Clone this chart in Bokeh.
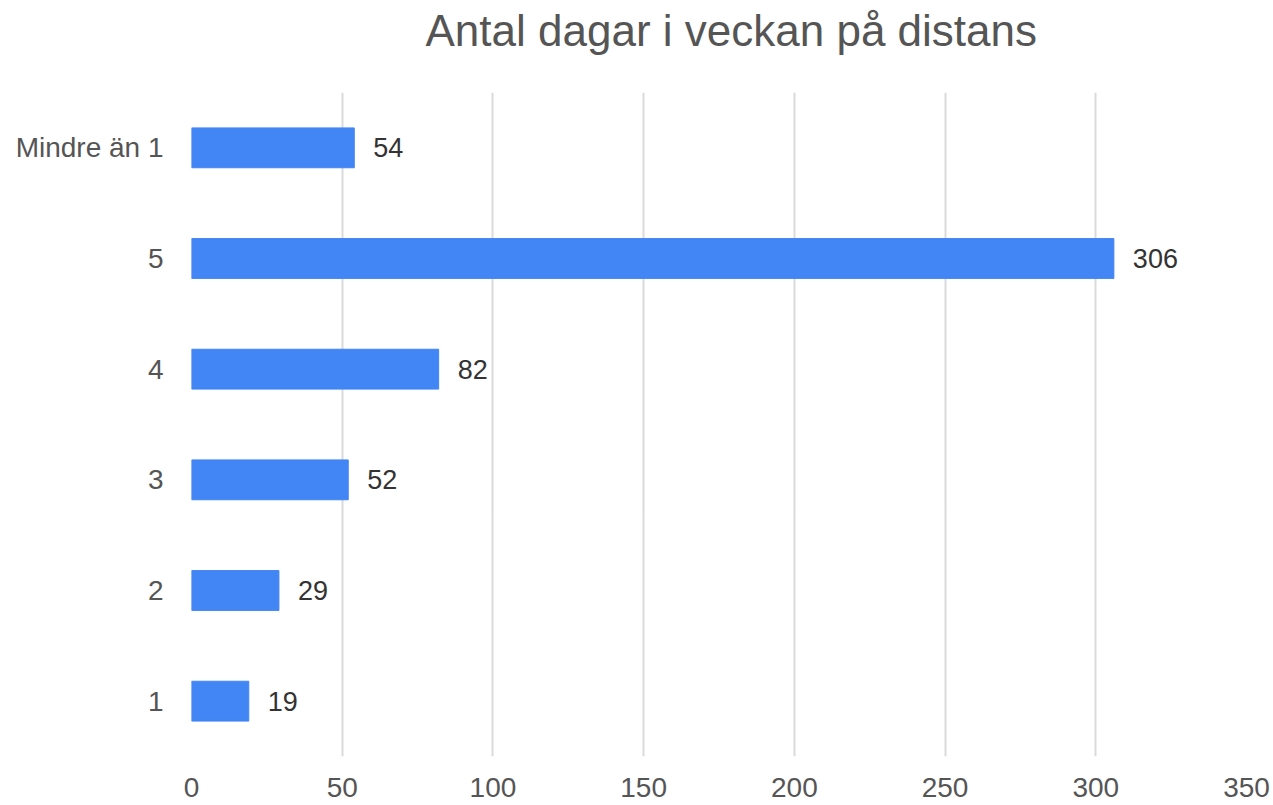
from bokeh.plotting import figure
from bokeh.models import FactorRange, Range1d, FixedTicker, ColumnDataSource, Title
from bokeh.core.properties import value
from bokeh.embed import file_html
from bokeh.resources import INLINE

categories = ["Mindre än 1", "5", "4", "3", "2", "1"]
counts = [54, 306, 82, 52, 29, 19]
x_ticks = [0, 50, 100, 150, 200, 250, 300, 350]
title_text = "Antal dagar i veckan på distans"

FONT = "Liberation Sans"
W, H = 1273, 805
LEFT, RIGHT, TOP, BOTTOM = 191, 27, 92, 49

source = ColumnDataSource(dict(cat=categories, val=counts, lbl=[str(v) for v in counts]))

p = figure(
    width=W, height=H,
    y_range=FactorRange(factors=list(reversed(categories)), range_padding=0),
    x_range=Range1d(0, 350),
    output_backend="svg", toolbar_location=None,
    min_border_left=LEFT, min_border_right=RIGHT, min_border_top=TOP, min_border_bottom=BOTTOM,
)
p.outline_line_color = None
p.background_fill_color = "white"
p.border_fill_color = "white"

# thin spacer between frame and title (added first -> closest to the frame)
spacer = Title(text=" ", text_font=FONT, text_font_size="1px", standoff=32)
p.add_layout(spacer, "above")

t = Title(text=title_text, align="left", offset=234, standoff=6,
          text_font=FONT, text_font_size="44px", text_font_style="normal",
          text_color="#555555")
p.add_layout(t, "above")

p.hbar(y="cat", right="val", left=0, height=0.36, color="#4285F4", source=source)
p.text(x="val", y="cat", text="lbl", source=source, x_offset=19,
       text_align="left", text_baseline="middle",
       text_font=value(FONT), text_font_size="27px", text_color="#333333")

p.xaxis.ticker = FixedTicker(ticks=x_ticks)
p.xaxis.axis_line_color = None
p.xaxis.major_tick_line_color = None
p.xaxis.minor_tick_line_color = None
p.xaxis.major_tick_out = 0
p.xaxis.major_label_standoff = 21
p.xaxis.major_label_text_font = FONT
p.xaxis.major_label_text_font_size = "28px"
p.xaxis.major_label_text_color = "#555555"

p.yaxis.axis_line_color = None
p.yaxis.major_tick_line_color = None
p.yaxis.major_tick_out = 0
p.yaxis.major_label_standoff = 28
p.yaxis.major_label_text_font = FONT
p.yaxis.major_label_text_font_size = "28px"
p.yaxis.major_label_text_color = "#555555"

p.xgrid.grid_line_color = "#dadada"
p.xgrid.grid_line_width = 2
p.ygrid.grid_line_color = None

open("out.html", "w").write(file_html(p, INLINE))
